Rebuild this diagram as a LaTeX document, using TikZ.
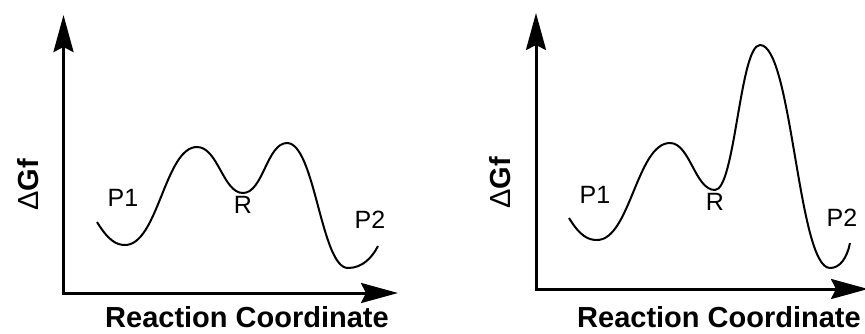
\documentclass[tikz,border=0pt]{standalone}
\usepackage{fontspec}
\setmainfont{Liberation Sans}
\usepackage{tikz}
\usetikzlibrary{arrows.meta, positioning, calc}
\definecolor{inkblack}{RGB}{0,0,0}
\tikzset{
  axis/.style={line width=3pt, inkblack, -{Stealth[length=37pt, width=20pt, inset=5pt]}},
  curve/.style={line width=2pt, inkblack},
  lbl/.style={font=\fontsize{25}{30}\selectfont, text=inkblack, inner sep=0pt},
  albl/.style={font=\fontsize{29}{34}\selectfont\bfseries, text=inkblack, inner sep=0pt}
}

\begin{document}
\begin{tikzpicture}[x=1pt, y=-1pt]
  \useasboundingbox (0,0) rectangle (865,333);
  % left panel
  \coordinate (oL) at (63.5,293);
  \coordinate (yL) at (63.5,15);
  \coordinate (xL) at (398,293);
  \draw[axis] ($(oL)+(0,-1.5)$) -- (yL);
  \draw[axis] ($(oL)+(-1.5,0)$) -- (xL);
  \draw[curve] (97,222) .. controls (108,240) and (116,245) .. (125,245)
    .. controls (158,245) and (165,147) .. (197,147)
    .. controls (218,147) and (223,193) .. (243,193)
    .. controls (263,193) and (267,143) .. (287,143)
    .. controls (315,143) and (321,268) .. (348,268)
    .. controls (362,268) and (372,258) .. (378,246);
  \node[lbl] (p1L) at (123,198) {P1};
  \node[lbl] (rL) at (243,205) {R};
  \node[lbl] (p2L) at (370,220) {P2};
  \node[albl, rotate=90] (gL) at (28,185) {{\mdseries Δ}Gf};
  \node[albl] (rcL) at (247,317) {Reaction Coordinate};
  % right panel
  \coordinate (oR) at (536,289);
  \coordinate (yR) at (536,13);
  \coordinate (xR) at (868,289);
  \draw[axis] ($(oR)+(0,-1.5)$) -- (yR);
  \draw[axis] ($(oR)+(-1.5,0)$) -- (xR);
  \draw[curve] (569,218) .. controls (580,236) and (588,240) .. (597,240)
    .. controls (630,240) and (637,143) .. (670,143)
    .. controls (690,143) and (695,190) .. (715,190)
    .. controls (735,190) and (740,45) .. (760,45)
    .. controls (792,45) and (798,268) .. (830,268)
    .. controls (840,268) and (847,258) .. (850,243);
  \node[lbl] (p1R) at (595,195) {P1};
  \node[lbl] (rR) at (715,202) {R};
  \node[lbl] (p2R) at (842,218) {P2};
  \node[albl, rotate=90] (gR) at (500,183) {{\mdseries Δ}Gf};
  \node[albl] (rcR) at (719,317) {Reaction Coordinate};
\end{tikzpicture}
\end{document}
